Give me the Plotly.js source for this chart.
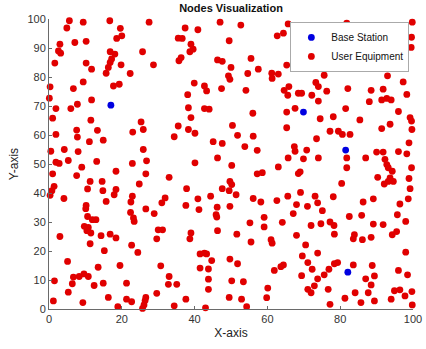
<!DOCTYPE html>
<html><head><meta charset="utf-8">
<script src="https://cdn.plot.ly/plotly-3.0.1.min.js"></script>
<style>html,body{margin:0;padding:0;background:#fff}</style>
</head><body><div id="chart" style="width:426px;height:349px"></div>
<script>
const ueX=[5.6,9.4,16.7,27.5,4.9,19.6,20.0,18.6,3.0,7.1,
10.2,2.6,3.2,16.8,18.1,25.7,1.6,10.2,11.7,17.2,
16.8,16.3,19.8,28.7,15.7,22.3,9.4,0.3,6.7,17.7,
19.3,37.4,40.9,47.0,52.7,65.7,35.5,36.6,39.0,49.5,
62.7,64.4,39.6,38.7,36.3,35.7,46.3,47.6,55.5,50.0,
57.5,54.6,61.2,63.0,61.3,65.3,49.3,49.7,39.9,42.7,
43.3,47.4,54.1,38.1,64.6,65.9,76.7,81.8,99.8,99.6,
99.5,75.4,88.0,94.0,79.5,75.6,93.0,73.3,74.0,76.3,
82.1,88.5,91.8,97.3,68.5,69.4,0.1,1.9,6.0,7.8,
11.7,1.0,11.5,25.3,1.9,7.6,7.8,13.3,23.0,25.9,
11.1,14.9,0.5,4.2,8.0,25.9,1.9,2.8,5.3,9.0,
13.1,22.9,26.8,65.6,38.3,42.7,44.0,39.0,56.0,65.3,
35.5,38.3,40.1,50.4,65.3,34.4,51.8,56.1,45.1,47.6,
53.8,57.2,46.3,40.1,50.2,63.0,65.7,72.2,74.0,98.3,
88.0,91.4,92.8,94.0,67.6,81.5,96.0,74.5,78.1,85.4,
99.6,99.2,77.2,79.5,80.6,82.7,91.4,93.7,99.7,73.5,
98.9,67.4,67.6,70.8,90.0,91.8,96.0,98.3,69.9,74.0,
81.8,87.0,92.3,92.8,93.2,81.8,99.6,1.0,7.6,18.4,
26.6,11.3,14.6,1.4,0.8,0.3,10.6,14.8,18.4,17.9,
24.8,33.0,4.1,15.7,22.9,22.5,31.9,31.0,10.2,10.1,
26.6,28.9,22.4,23.2,23.4,10.6,11.9,12.9,9.7,10.8,
10.4,11.5,3.0,14.3,16.8,18.4,30.0,31.2,29.6,11.3,
22.7,57.2,58.6,49.7,50.2,37.8,47.6,49.5,51.4,40.9,
44.4,56.1,58.2,62.6,65.6,37.6,41.2,46.2,49.7,45.9,
46.1,59.1,55.2,59.1,64.1,46.3,39.0,38.7,51.6,55.5,
61.0,61.3,68.5,69.0,94.3,90.3,93.7,93.2,94.6,92.1,
98.9,99.2,80.4,69.1,73.1,73.8,78.1,68.0,71.0,75.1,
86.3,89.1,98.7,96.4,67.1,82.5,85.9,95.7,72.0,74.7,
77.2,78.3,89.1,91.8,98.0,68.0,78.4,83.9,83.6,86.1,
88.5,94.3,95.5,70.5,15.2,24.4,5.1,19.5,30.7,13.5,
6.7,8.3,9.6,10.8,1.5,6.4,12.4,14.9,21.3,33.0,
32.8,5.3,29.6,16.3,21.3,22.7,26.6,26.4,26.1,25.7,
1.2,9.3,18.9,41.5,42.7,43.3,44.7,49.7,51.8,64.4,
63.7,41.5,43.8,61.9,35.1,43.8,50.2,53.4,43.8,60.1,
49.5,52.9,59.8,37.6,34.4,43.0,54.3,69.6,73.8,71.1,
98.0,78.4,79.3,83.6,88.8,72.3,76.9,69.4,73.8,75.6,
89.4,87.0,96.0,98.5,88.5,72.9,71.1,72.0,76.7,84.1,
87.7,94.9,96.4,99.7,97.8,81.3,94.0,85.7,89.4,77.2,
99.8];
const ueY=[99.4,98.9,99.4,98.9,96.9,96.8,94.2,93.3,91.3,91.9,
92.3,89.0,88.2,88.7,87.9,88.7,84.8,84.8,82.7,86.2,
85.0,83.3,84.2,84.2,81.3,81.2,78.3,76.6,76.0,76.9,
77.5,96.9,96.3,98.9,97.9,98.3,93.4,93.3,91.3,92.5,
94.2,95.1,89.6,88.7,86.7,85.6,85.9,85.4,86.4,83.3,
82.7,81.2,81.3,81.0,79.5,84.1,80.4,79.2,77.9,76.9,
75.2,76.0,75.4,73.9,75.4,76.7,97.5,98.6,98.9,93.7,
90.2,86.4,86.4,87.0,84.1,80.6,80.4,78.1,76.7,75.1,
76.0,75.4,75.8,78.3,74.4,74.4,72.7,69.1,69.1,70.6,
72.1,65.8,65.1,64.5,60.2,61.7,59.3,61.6,61.0,61.9,
57.7,58.2,54.4,55.0,54.3,55.0,50.6,50.2,51.2,48.9,
50.9,50.2,51.1,73.7,69.4,69.1,68.9,66.0,67.5,67.9,
63.1,61.9,60.6,63.3,62.5,59.4,59.9,59.6,57.7,57.1,
56.0,54.7,52.1,50.4,49.5,49.0,52.1,73.7,71.7,74.0,
71.5,72.1,72.6,72.1,69.2,69.1,68.1,65.6,66.3,65.2,
64.8,66.0,61.3,61.3,60.2,60.2,62.2,63.7,61.9,58.7,
57.3,56.0,54.4,54.8,54.1,54.1,54.3,53.5,51.8,52.1,
52.1,52.1,51.6,49.8,48.7,48.7,48.7,46.6,46.0,47.5,
46.6,44.0,44.0,42.3,40.8,39.2,41.4,40.8,41.2,39.4,
43.1,45.4,38.1,37.1,38.9,36.9,38.3,36.6,35.7,34.6,
34.5,32.9,33.3,31.4,30.2,31.9,30.8,30.8,28.5,28.1,
27.0,26.2,25.0,25.3,25.8,24.5,27.3,27.3,24.2,22.5,
22.0,46.6,47.0,44.0,42.9,41.5,41.5,40.8,39.4,38.0,
38.9,38.1,36.9,37.4,38.9,35.7,34.3,35.1,35.4,32.5,
31.7,31.6,29.7,28.3,29.9,27.0,26.2,24.2,25.8,23.1,
23.9,22.7,46.7,47.3,47.5,45.4,45.2,44.0,44.0,43.1,
45.0,41.5,43.3,40.2,38.9,36.6,38.7,36.0,35.4,33.9,
36.9,38.0,38.0,36.2,32.9,31.9,32.3,32.5,28.8,29.4,
30.0,28.8,29.3,29.1,30.2,25.4,25.8,25.6,24.2,23.9,
24.7,25.6,26.7,22.1,20.1,19.5,16.4,15.0,14.9,14.4,
11.0,11.2,12.1,11.2,9.7,8.7,8.1,8.9,8.9,11.2,
8.5,5.8,5.4,4.0,3.4,2.5,4.0,2.9,1.4,0.2,
2.8,2.2,0.8,19.0,19.3,19.0,16.7,17.2,15.6,15.2,
14.6,14.1,13.8,13.3,8.5,10.3,9.7,9.4,6.8,7.2,
4.0,3.4,3.9,3.4,1.1,0.4,0.8,18.3,19.3,16.0,
19.6,15.6,16.0,15.2,15.0,13.7,13.7,11.5,10.4,11.8,
11.4,10.4,13.3,11.8,8.3,8.0,6.8,5.6,6.8,5.6,
5.6,6.3,6.6,6.0,4.5,3.7,3.4,2.2,2.8,1.6,
1.4];
const bsX=[17.0,69.9,81.5,82.1];
const bsY=[70.3,67.9,54.8,12.7];
const xTicks=[0,20,40,60,80,100];
const yTicks=[0,10,20,30,40,50,60,70,80,90,100];

const FONT='Liberation Sans, Arial, Helvetica, sans-serif';
const data=[
  {type:'scatter',mode:'markers',name:'User Equipment',x:ueX,y:ueY,cliponaxis:false,
   marker:{color:'#e00000',size:6.8}},
  {type:'scatter',mode:'markers',name:'Base Station',x:bsX,y:bsY,cliponaxis:false,
   marker:{color:'#0000e0',size:6.8}}
];
const axisCommon={showgrid:false,zeroline:false,showline:true,linecolor:'#6a6a6a',linewidth:1,
  ticks:'inside',ticklen:3,tickcolor:'#6a6a6a',mirror:false,automargin:false,
  tickfont:{family:FONT,size:11,color:'#333'}};
const layout={
  width:426,height:349,
  margin:{l:49,r:13,t:19,b:40},
  paper_bgcolor:'#fff',plot_bgcolor:'#fff',
  font:{family:FONT},
  title:{text:'<b>Nodes Visualization</b>',font:{family:FONT,size:11,color:'#111'},
    xref:'paper',x:0.5,xanchor:'center',yref:'container',y:0.977,yanchor:'middle'},
  xaxis:Object.assign({},axisCommon,{range:[0,100],tickvals:xTicks,
    title:{text:'X-axis',font:{family:FONT,size:12,color:'#222'},standoff:4}}),
  yaxis:Object.assign({},axisCommon,{range:[0,100],tickvals:yTicks,
    title:{text:'Y-axis',font:{family:FONT,size:12,color:'#222'},standoff:6}}),
  showlegend:true,
  legend:{x:0.99,xanchor:'right',y:0.99,yanchor:'top',bgcolor:'#fff',bordercolor:'#aaa',borderwidth:1,
    traceorder:'reversed',font:{family:FONT,size:10,color:'#111'},tracegroupgap:0}
};
Plotly.newPlot('chart',data,layout,{staticPlot:true,displayModeBar:false});
</script></body></html>
